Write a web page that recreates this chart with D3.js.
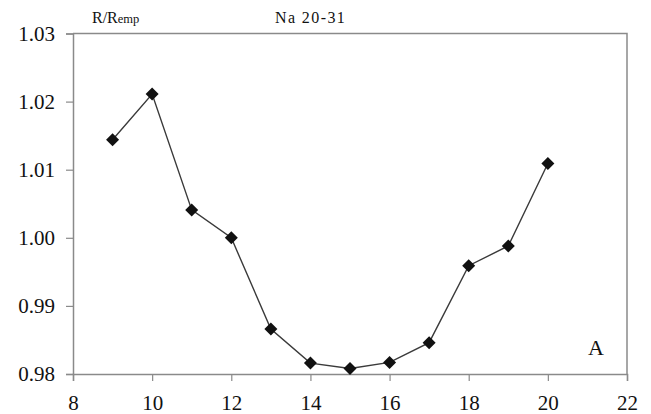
<!DOCTYPE html>
<html>
<head>
<meta charset="utf-8">
<script src="https://cdn.jsdelivr.net/npm/d3@7"></script>
<style>
  body { margin: 0; background: #fff; }
  text { font-family: "Liberation Serif", "DejaVu Serif", serif; fill: #111; }
</style>
</head>
<body>
<script>
// data
var xValues = [9, 10, 11, 12, 13, 14, 15, 16, 17, 18, 19, 20];
var ratio = [1.0144, 1.0211, 1.0041, 1.0000, 0.9866, 0.9816, 0.9808, 0.9817, 0.9846, 0.9959, 0.9988, 1.0109];
var xTicks = [8, 10, 12, 14, 16, 18, 20, 22];
var yTicks = [0.98, 0.99, 1.00, 1.01, 1.02, 1.03];

var width = 651, height = 414;
var margin = { top: 33.5, right: 24, bottom: 40, left: 73 };

var svg = d3.select("body").append("svg")
  .attr("width", width)
  .attr("height", height);

var x = d3.scaleLinear().domain([8, 22]).range([margin.left, width - margin.right]);
var y = d3.scaleLinear().domain([0.98, 1.03]).range([height - margin.bottom, margin.top]);

// frame (top and right)
svg.append("path")
  .attr("d", "M" + x(8) + "," + y(1.03) + "H" + x(22) + "V" + y(0.98))
  .attr("fill", "none")
  .attr("stroke", "#8a8a8a")
  .attr("stroke-width", 1.5);

// axes
var xAxis = svg.append("g")
  .attr("transform", "translate(0," + y(0.98) + ")")
  .call(d3.axisBottom(x).tickValues(xTicks).tickSize(7).tickPadding(14).tickFormat(d3.format("d")));

var yAxis = svg.append("g")
  .attr("transform", "translate(" + x(8) + ",0)")
  .call(d3.axisLeft(y).tickValues(yTicks).tickSize(7).tickPadding(11).tickFormat(d3.format(".2f")));

[xAxis, yAxis].forEach(function (g) {
  g.attr("font-family", null).attr("font-size", null);
  g.select(".domain").attr("stroke", "#8a8a8a").attr("stroke-width", 1.5);
  g.selectAll(".tick line").attr("stroke", "#8a8a8a").attr("stroke-width", 1.2);
  g.selectAll(".tick text")
    .style("font-family", "'Liberation Serif', serif")
    .style("font-size", "21px")
    .attr("fill", "#111");
});

// series line
var line = d3.line()
  .x(function (d, i) { return x(xValues[i]); })
  .y(function (d) { return y(d); });

svg.append("path")
  .datum(ratio)
  .attr("d", line)
  .attr("fill", "none")
  .attr("stroke", "#3a3a3a")
  .attr("stroke-width", 1.4);

// diamond markers
svg.append("g")
  .selectAll("path")
  .data(ratio)
  .enter().append("path")
  .attr("transform", function (d, i) { return "translate(" + x(xValues[i]) + "," + y(d) + ")"; })
  .attr("d", "M0,-6.5L6.5,0L0,6.5L-6.5,0Z")
  .attr("fill", "#111");

// labels
var lab = svg.append("text")
  .attr("x", 92)
  .attr("y", 23)
  .style("font-size", "16px");
lab.append("tspan").text("R/R");
lab.append("tspan").style("font-size", "12.5px").text("emp");

svg.append("text")
  .attr("x", 275)
  .attr("y", 23)
  .style("font-size", "16px")
  .style("letter-spacing", "1.4px")
  .text("Na 20-31");

svg.append("text")
  .attr("x", 588)
  .attr("y", 355)
  .style("font-size", "22px")
  .text("A");
</script>
</body>
</html>
